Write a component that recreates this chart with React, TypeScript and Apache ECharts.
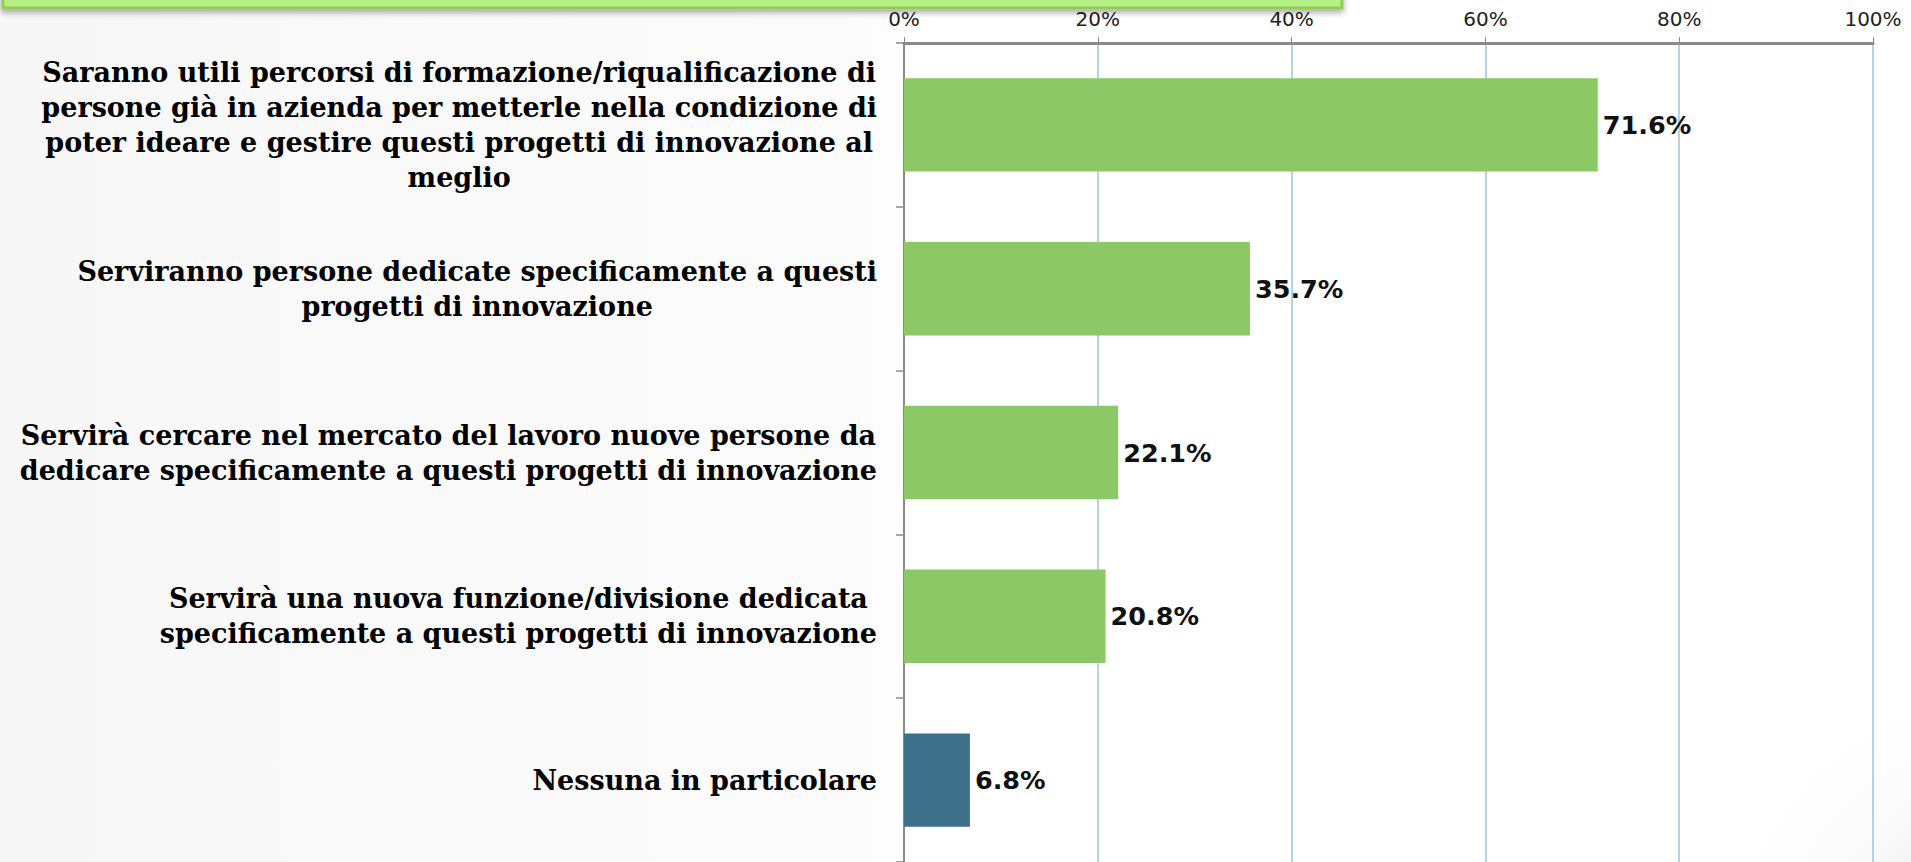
import React, { useEffect, useRef } from "react";
import * as echarts from "echarts";

const categories: string[] = [
  "Saranno utili percorsi di formazione/riqualificazione di\npersone già in azienda per metterle nella condizione di\npoter ideare e gestire questi progetti di innovazione al\nmeglio",
  "Serviranno persone dedicate specificamente a questi\nprogetti di innovazione",
  "Servirà cercare nel mercato del lavoro nuove persone da\ndedicare specificamente a questi progetti di innovazione",
  "Servirà una nuova funzione/divisione dedicata\nspecificamente a questi progetti di innovazione",
  "Nessuna in particolare",
];
const values: number[] = [71.6, 35.7, 22.1, 20.8, 6.8];
const barColors: string[] = ["#8CC866", "#8CC866", "#8CC866", "#8CC866", "#3D7189"];
const xTicks: number[] = [0, 20, 40, 60, 80, 100];

export default function App() {
  const ref = useRef<HTMLDivElement>(null);
  useEffect(() => {
    if (!ref.current) return;
    const chart = echarts.init(ref.current, undefined, { renderer: "svg" });
    chart.setOption({
      animation: false,
      backgroundColor: {
        type: "linear",
        x: 0,
        y: 0,
        x2: 1,
        y2: 0,
        colorStops: [
          { offset: 0, color: "#f7f7f7" },
          { offset: 0.44, color: "#fbfbfb" },
          { offset: 0.48, color: "#ffffff" },
          { offset: 1, color: "#ffffff" },
        ],
      },
      graphic: [
        {
          type: "circle",
          shape: { cx: 2000, cy: 960, r: 300 },
          silent: true,
          z: -10,
          style: {
            fill: {
              type: "radial",
              x: 0.5,
              y: 0.5,
              r: 0.5,
              colorStops: [
                { offset: 0, color: "rgba(220,220,220,0.9)" },
                { offset: 1, color: "rgba(255,255,255,0)" },
              ],
            },
          },
        },
        {
          type: "rect",
          shape: { x: 3, y: -30, width: 1339, height: 38 },
          z: 100,
          style: {
            fill: "#B6EF86",
            stroke: "#8DCF55",
            lineWidth: 3,
            shadowBlur: 6,
            shadowOffsetY: 3,
            shadowColor: "rgba(0,0,0,0.35)",
          },
        },
      ],
      grid: { left: 904, right: 38, top: 43, bottom: -4, containLabel: false },
      xAxis: {
        type: "value",
        position: "top",
        min: xTicks[0],
        max: xTicks[xTicks.length - 1],
        interval: xTicks[1] - xTicks[0],
        axisLine: { show: true, lineStyle: { color: "#8a8a8a", width: 3 } },
        axisTick: { show: true, length: 6, lineStyle: { color: "#8a8a8a", width: 1 } },
        axisLabel: {
          formatter: "{value}%",
          fontFamily: "DejaVu Sans",
          fontSize: 20,
          color: "#222",
          margin: 14,
        },
        splitLine: { show: true, lineStyle: { color: "#9DC3E6", width: 1.5 } },
      },
      yAxis: {
        type: "category",
        inverse: true,
        data: categories,
        axisLine: { show: true, lineStyle: { color: "#8a8a8a", width: 2 } },
        axisTick: { show: true, length: 8, lineStyle: { color: "#8a8a8a", width: 1.5 } },
        axisLabel: {
          margin: 27,
          align: "right",
          formatter: (v: string) =>
            v
              .split("\n")
              .map((l) => `{c|${l}}`)
              .join("\n"),
          rich: {
            c: {
              align: "center",
              fontFamily: "DejaVu Serif",
              fontWeight: "bold",
              fontSize: 27,
              lineHeight: 35,
              color: "#000",
            },
          },
        },
      },
      series: [
        {
          type: "bar",
          data: values.map((v, i) => ({ value: v, itemStyle: { color: barColors[i] } })),
          barWidth: "57%",
          label: {
            show: true,
            position: "right",
            distance: 5,
            formatter: (p: any) => `${Number(p.value).toFixed(1)}%`,
            fontFamily: "DejaVu Sans",
            fontWeight: "bold",
            fontSize: 25.5,
            color: "#111",
          },
        },
      ],
    });
    return () => chart.dispose();
  }, []);
  return (
    <div
      ref={ref}
      style={{ position: "fixed", left: 0, top: 0, width: 1911, height: 862 }}
    />
  );
}
